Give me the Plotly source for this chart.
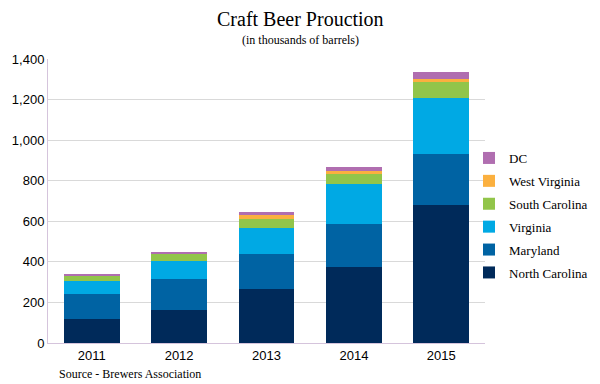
import plotly.graph_objects as go

years = ["2011", "2012", "2013", "2014", "2015"]
north_carolina = [120, 163, 266, 374, 678]
maryland = [122, 152, 172, 212, 255]
virginia = [64, 89, 130, 197, 273]
south_carolina = [26, 38, 43, 55, 83]
west_virginia = [2, 1, 20, 9, 10]
dc = [6, 5, 14, 22, 36]

series = [
    ("North Carolina", north_carolina, "#002a5a"),
    ("Maryland", maryland, "#0063a3"),
    ("Virginia", virginia, "#00a9e4"),
    ("South Carolina", south_carolina, "#92c54a"),
    ("West Virginia", west_virginia, "#fbb03f"),
    ("DC", dc, "#b06eb0"),
]

fig = go.Figure()
n = len(series)
for i, (name, vals, color) in enumerate(series):
    fig.add_trace(go.Bar(x=years, y=vals, name=name, marker_color=color,
                         marker_line_width=0, legendgroup=name,
                         legendrank=(n - i) * 10))

serif = "Liberation Serif, Times New Roman, serif"
sans = "Liberation Sans, Arial, sans-serif"

# figure coords (page has an 8px body offset)
L, R, T, B = 40, 123, 51, 49
W, H = 600, 384
plot_w = W - L - R
plot_h = H - T - B

def px_to_paper(xp, yp):
    return (xp - L) / plot_w, (H - B - yp) / plot_h

tx, ty = px_to_paper(292, 11)
sx, sy = px_to_paper(292, 32)
srcx, srcy = px_to_paper(49, 366)
lgx, lgy = px_to_paper(461, 135)

fig.update_layout(
    barmode="stack",
    bargap=0.36,
    width=W, height=H,
    margin=dict(l=L, r=R, t=T, b=B, autoexpand=False),
    paper_bgcolor="white", plot_bgcolor="white",
    font=dict(family=sans, size=13, color="#000000"),
    showlegend=True,
    legend=dict(traceorder="grouped", x=lgx, xanchor="left", y=lgy, yanchor="top",
                font=dict(family=serif, size=13, color="#000000"),
                tracegroupgap=3, itemwidth=30,
                bgcolor="rgba(0,0,0,0)"),
    xaxis=dict(showline=True, linecolor="#d5c4dc", linewidth=1, ticks="",
               automargin=False, tickfont=dict(family=sans, size=13)),
    yaxis=dict(range=[0, 1400], dtick=200, tickformat=",", showgrid=True,
               gridcolor="#d9d9d9", gridwidth=1, showline=True,
               linecolor="#d5c4dc", linewidth=1, ticks="", zeroline=False,
               automargin=False, tickfont=dict(family=sans, size=13)),
    annotations=[
        dict(text="Craft Beer Prouction", x=tx, xref="paper", y=ty, yref="paper",
             xanchor="center", yanchor="middle", showarrow=False,
             font=dict(family=serif, size=20)),
        dict(text="(in thousands of barrels)", x=sx, xref="paper", y=sy, yref="paper",
             xanchor="center", yanchor="middle", showarrow=False,
             font=dict(family=serif, size=12)),
        dict(text="Source - Brewers Association", x=srcx, xref="paper", y=srcy, yref="paper",
             xanchor="left", yanchor="middle", showarrow=False,
             font=dict(family=serif, size=12)),
    ],
)

fig.write_html("out.html")
